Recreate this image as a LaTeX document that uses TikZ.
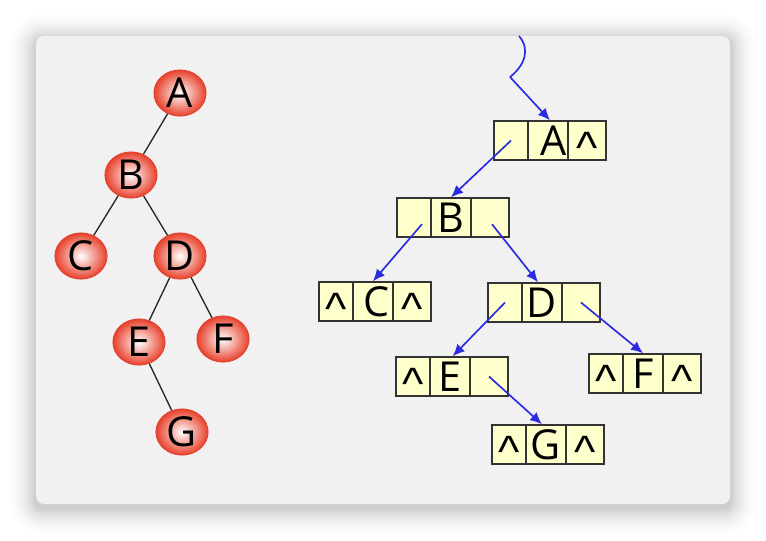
\documentclass[tikz,border=0pt]{standalone}
\usepackage{fontspec}
\setmainfont{Open Sans}
\newfontfamily\caretfont{Liberation Sans}
\usetikzlibrary{arrows.meta,shapes.geometric}
\definecolor{panel}{HTML}{F1F1F1}
\definecolor{nodered}{HTML}{E8412C}
\definecolor{noderim}{HTML}{E04530}
\definecolor{cellfill}{HTML}{FFFFCC}
\definecolor{arrowblue}{HTML}{2B2BE0}
\newcommand\listcells[6]{%
  \node[lcell] (#1l) at (#2+17,#3+19.5) {#4};
  \node[mcell] (#1m) at (#2+54,#3+19.5) {#5};
  \node[rcell] (#1r) at (#2+93,#3+19.5) {#6};}
\newcommand\crt{\raisebox{-17.5pt}[0pt][0pt]{\caretfont\fontsize{34}{36}\selectfont\textasciicircum}}
\begin{document}
\begin{tikzpicture}[x=0.75pt,y=-0.75pt,
  treenode/.style={ellipse, draw=noderim, line width=0.8pt, inner color=white, outer color=nodered,
    minimum width=39pt, minimum height=34.5pt, inner sep=0pt, font=\fontsize{31}{33}\selectfont},
  treeedge/.style={draw=black!85, line width=1pt},
  cell/.style={draw=black!80, line width=1.1pt, fill=cellfill, minimum height=29.25pt,
    inner sep=0pt, font=\fontsize{31}{33}\selectfont},
  lcell/.style={cell, minimum width=25.5pt},
  mcell/.style={cell, minimum width=30pt},
  rcell/.style={cell, minimum width=28.5pt},
  ptr/.style={draw=arrowblue, line width=1.25pt, -{Latex[length=9pt,width=8pt]}}
]
\useasboundingbox (0,0) rectangle (766,540);
\fill[white] (0,0) rectangle (766,540);
% shadow
\foreach \i in {1,...,30}{
  \pgfmathsetmacro\rr{(6+\i)*0.75}
  \pgfmathsetmacro\aa{0.013*(1-\i/31)}
  \fill[black, opacity=\aa, rounded corners=\rr pt] (36-\i,36-\i+4) rectangle (730+\i,504+\i+4);
}
\fill[panel, rounded corners=6pt] (36,36) rectangle (730,504);

% left tree
\node[treenode] (tA) at (180,93) {A};
\node[treenode] (tB) at (131,175) {B};
\node[treenode] (tC) at (81,256) {C};
\node[treenode] (tD) at (180,256) {D};
\node[treenode] (tE) at (139,342) {E};
\node[treenode] (tF) at (223,339) {F};
\node[treenode] (tG) at (182,432) {G};
\draw[treeedge] (tA) -- (tB);
\draw[treeedge] (tB) -- (tC);
\draw[treeedge] (tB) -- (tD);
\draw[treeedge] (tD) -- (tE);
\draw[treeedge] (tD) -- (tF);
\draw[treeedge] (tE) -- (tG);

% linked structure
\listcells{A}{494}{121}{}{\hspace{8pt}A}{\crt}
\listcells{B}{397}{198}{}{B}{}
\listcells{C}{319}{282}{\crt}{\hspace{6pt}C}{\crt}
\listcells{D}{488}{283}{}{D}{}
\listcells{E}{396}{357}{\crt}{E\hspace{8pt}}{}
\listcells{F}{589}{354}{\crt}{F}{\crt}
\listcells{G}{492}{425}{\crt}{G\hspace{4pt}}{\crt}

\coordinate (root) at (519,36);
\coordinate (kink) at (510,77);
\draw[arrowblue, line width=1.25pt] (root) .. controls (531,50) and (524,66) .. (kink);
\draw[ptr] (kink) -- ([xshift=1.5pt]Am.north);
\draw[ptr] (Al.center) -- (Bm.north);
\draw[ptr] ([xshift=6pt,yshift=-5pt]Bl.center) -- (Cm.north);
\draw[ptr] ([xshift=1.5pt,yshift=-5pt]Br.center) -- ([xshift=-3pt]Dm.north);
\draw[ptr] (Dl.center) -- ([xshift=2pt]Em.north);
\draw[ptr] (Dr.center) -- (Fm.north);
\draw[ptr] (Er.center) -- ([xshift=-3pt]Gm.north);
\end{tikzpicture}
\end{document}
